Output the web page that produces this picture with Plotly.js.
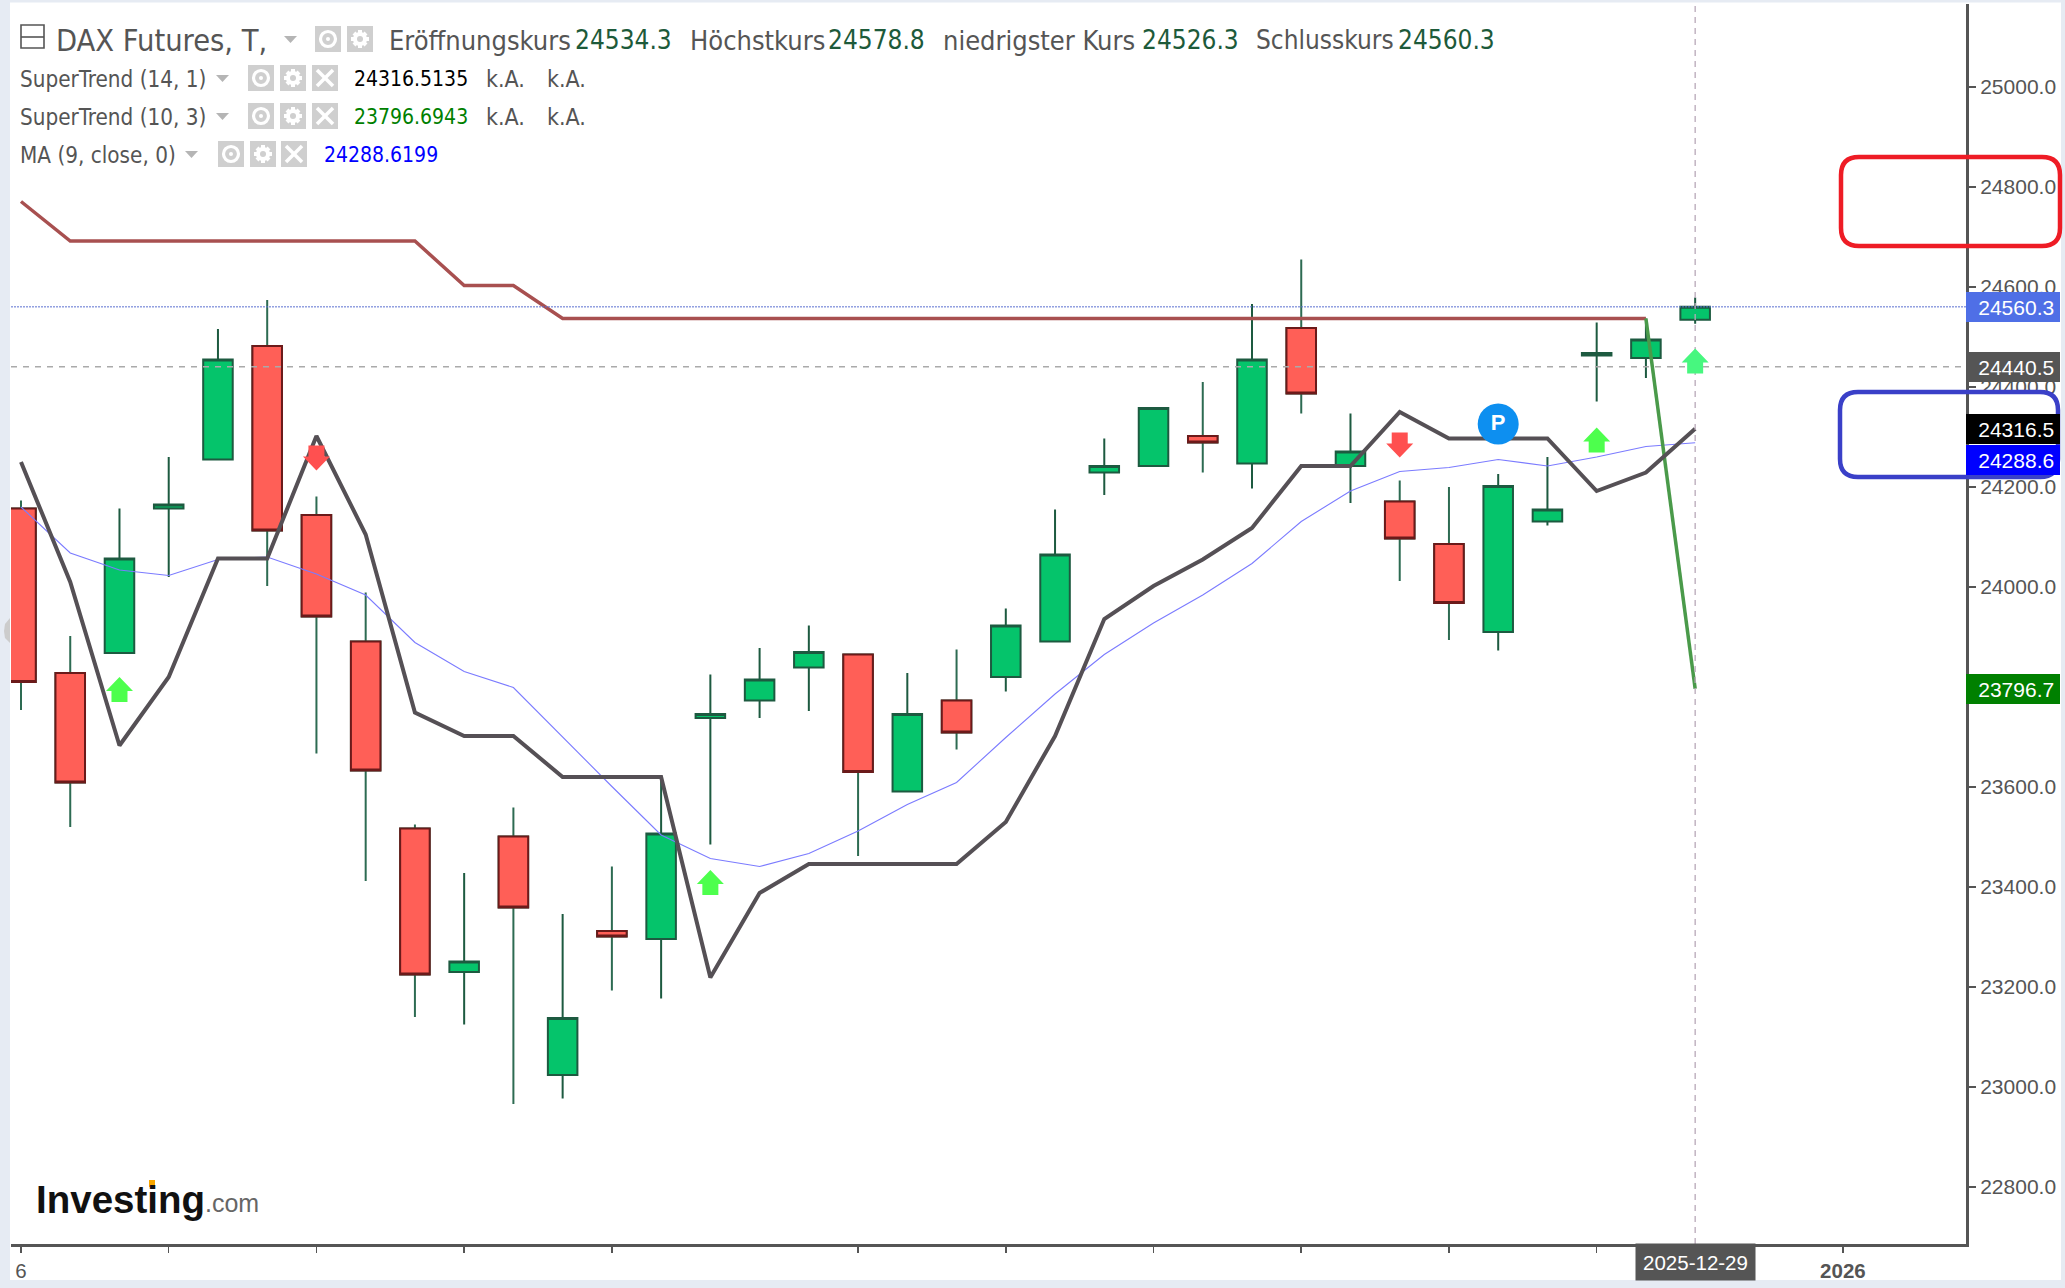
<!DOCTYPE html>
<html><head><meta charset="utf-8">
<script src="https://cdn.plot.ly/plotly-3.0.1.min.js"></script>
<style>html,body{margin:0;padding:0;background:#fff}</style></head>
<body><div id="chart" style="width:2065px;height:1288px"></div>
<script>
// ---- data ----
const sessions = [0,1,2,3,4,5,6,7,8,9,10,11,12,13,14,15,16,17,18,19,20,21,22,23,24,25,26,27,28,29,30,31,32,33,34];
const opens  = [24157,23828,23868,24157,24255,24482,24144,23891,23517,23230,23501,23024,23312,23296,23738,23773,23839,23865,23591,23773,23820,23891,24229,24242,24302,24247,24518,24242,24171,24086,23910,24131,24463,24458,24534.3];
const highs  = [24173,23902,24157,24260,24516,24574,24181,23989,23525,23428,23559,23346,23441,23623,23825,23878,23923,23865,23828,23875,23957,24155,24297,24358,24410,24566,24655,24347,24213,24200,24226,24260,24529,24537,24578.8];
const lows   = [23754,23520,23868,24020,24255,24002,23667,23412,23140,23125,22966,22977,23193,23177,23485,23738,23752,23462,23591,23675,23791,23891,24184,24242,24229,24197,24347,24168,24012,23894,23873,24123,24371,24418,24526.3];
const closes = [23810,23609,24057,24165,24455,24113,23941,23633,23225,23251,23359,23138,23301,23507,23746,23815,23870,23630,23746,23709,23923,24065,24242,24358,24289,24455,24387,24271,24097,23968,24202,24155,24468,24495,24560.3];
const superTrendUpper = [24771,24692,24692,24692,24692,24692,24692,24692,24692,24603,24603,24537,24537,24537,24537,24537,24537,24537,24537,24537,24537,24537,24537,24537,24537,24537,24537,24537,24537,24537,24537,24537,24537,24537];
const superTrendLower = [24537,23796.7];
const superTrendLowerAt = [33,34];
const superTrendFast = [24250,24010,23683,23820,24057,24057,24302,24105,23749,23702,23702,23620,23620,23620,23219,23388,23446,23446,23446,23446,23530,23702,23936,24002,24055,24118,24242,24242,24350,24297,24297,24297,24192,24229,24316.5];
const movingAverage = [24160,24068,24034,24023,24055,24060,24026,23984,23889,23831,23799,23699,23601,23504,23457,23441,23467,23512,23565,23609,23699,23786,23865,23928,23984,24047,24131,24192,24231,24239,24255,24242,24260,24281,24288.6];
const buySignalAt = [2,14,32,34];
const buySignalPrice = [23795,23409,24294,24452];
const sellSignalAt = [6,28];
const sellSignalPrice = [24258,24284];
const pivotAt = [30];
const pivotPrice = [24326];
const priceTicks = [22800,23000,23200,23400,23600,24000,24200,24400,24600,24800,25000];
const timeTicks = [0,3,6,9,12,17,20,23,26,29,32,34,37];
const timeTickLabels = ['6','','','','','','','','','','','','<b>2026</b>'];
const priceLabels = [
  ['24440.5',24440.5,'#555555',0],
  ['24560.3',24560.3,'#4f6fe6',0],
  ['24316.5',24316.5,'#000000',0],
  ['24288.6',24288.6,'#0000ff',-17],
  ['23796.7',23796.7,'#008000',0]
];
const lastPrice = 24560.3, crossPrice = 24440.5, crossIndex = 34;

// ---- frame geometry ----
const W=2065,H=1288,L=11,R=1966,T=4,B=1244;
const HEAD='"DejaVu Sans Condensed","DejaVu Sans",sans-serif';
const px=x=>(x-L)/(R-L), py=y=>1-(y-T)/(B-T);
const shapes=[], ann=[];
const pshape=(o)=>shapes.push(Object.assign({xref:'paper',yref:'paper',layer:'above'},o));
function prect(x0,y0,x1,y1,fill,line,lw){pshape({type:'rect',x0:px(x0),x1:px(x1),y0:py(y0),y1:py(y1),fillcolor:fill,line:{color:line||fill,width:lw||0}});}
function ppath(pts,fill,line,lw,close){
  const d=pts.map((p,i)=>(i?'L':'M')+px(p[0]).toFixed(5)+','+py(p[1]).toFixed(5)).join(' ')+(close?' Z':'');
  pshape({type:'path',path:d,fillcolor:fill||'rgba(0,0,0,0)',line:{color:line||'rgba(0,0,0,0)',width:lw||0}});
}
function pcircle(cx,cy,r,fill,line,lw){pshape({type:'circle',x0:px(cx-r),x1:px(cx+r),y0:py(cy+r),y1:py(cy-r),fillcolor:fill,line:{color:line||fill,width:lw||0}});}
function text(t,x,y,size,color,opts){
  ann.push(Object.assign({xref:'paper',yref:'paper',x:px(x),y:py(y),text:t,showarrow:false,xanchor:'left',yanchor:'middle',
    font:{family:HEAD,size:size,color:color},borderpad:0},opts||{}));
}
function roundRect(x0,y0,x1,y1,r,color,lw){
  const X=px,Y=py;
  const d=`M${X(x0+r)},${Y(y0)} L${X(x1-r)},${Y(y0)} Q${X(x1)},${Y(y0)} ${X(x1)},${Y(y0+r)} L${X(x1)},${Y(y1-r)} Q${X(x1)},${Y(y1)} ${X(x1-r)},${Y(y1)} L${X(x0+r)},${Y(y1)} Q${X(x0)},${Y(y1)} ${X(x0)},${Y(y1-r)} L${X(x0)},${Y(y0+r)} Q${X(x0)},${Y(y0)} ${X(x0+r)},${Y(y0)} Z`;
  pshape({type:'path',path:d,line:{color:color,width:lw},fillcolor:'rgba(0,0,0,0)'});
}
// page frame
const frame='#e6ebf3';
prect(0,0,10,H,frame);prect(0,H-8,W,H,frame);prect(2061,0,W,H,frame);prect(0,0,W,2.5,frame);
ppath([[10,618],[5,624],[4,631],[5,638],[10,643]],'#cccccc',null,0,true);

// icons
function icoBox(x,y){prect(x,y,x+26,y+26,'#cfcfcf');}
function eye(x,y){icoBox(x,y);pcircle(x+13,y+13,7.5,'rgba(0,0,0,0)','#fff',3.2);pcircle(x+13,y+13,2,'#fff');}
function gear(x,y){icoBox(x,y);
  ppath([[x+13,y+4],[x+13,y+22]],null,'#fff',4);ppath([[x+4,y+13],[x+22,y+13]],null,'#fff',4);
  ppath([[x+7,y+7],[x+19,y+19]],null,'#fff',4);ppath([[x+19,y+7],[x+7,y+19]],null,'#fff',4);
  pcircle(x+13,y+13,7,'#fff');pcircle(x+13,y+13,3,'#cfcfcf');}
function cross(x,y){icoBox(x,y);ppath([[x+5,y+5],[x+21,y+21]],null,'#fff',3.5);ppath([[x+21,y+5],[x+5,y+21]],null,'#fff',3.5);}
function caret(x,y){ppath([[x,y-3],[x+13,y-3],[x+6.5,y+4]],'#b5b5b5',null,0,true);}
// header row
prect(21,25,44,48,'rgba(0,0,0,0)','#555',1.6);ppath([[21,37],[44,37]],null,'#555',1.6);
text('DAX Futures, T,',55,40,30.5,'#555555');
caret(284,39);eye(315,26);gear(347,26);
const dk='#1d5a3a';
[['Eröffnungskurs',388,'24534.3',574,27],['Höchstkurs',689,'24578.8',827,27],['niedrigster Kurs',942,'24526.3',1141,27],['Schlusskurs',1255,'24560.3',1397,26]].forEach(r=>{
  text(r[0],r[1],40,r[4],'#555555');text(r[2],r[3],40,26,dk);
});
// indicator rows
[['SuperTrend (14, 1)',78,'24316.5135','#000000',216],['SuperTrend (10, 3)',116,'23796.6943','#008000',216]].forEach(r=>{
  text(r[0],19,r[1]+1,22.3,'#555555');caret(r[4],r[1]);
  eye(248,r[1]-13);gear(280,r[1]-13);cross(312,r[1]-13);
  text(r[2],353,r[1]+1,21,r[3]);text('k.A.',485,r[1]+1,23,'#555555');text('k.A.',546,r[1]+1,23,'#555555');
});
text('MA (9, close, 0)',19,155,22.3,'#555555');caret(185,154);eye(218,141);gear(250,141);cross(281,141);
text('24288.6199',323,155,21,'#0000ff');

// logo
text('Investing',35,1199,38.5,'#111111',{font:{family:'"Liberation Sans",sans-serif',size:38.5,color:'#111111',weight:700}});
text('.com',204,1203,25,'#666666',{font:{family:'"Liberation Sans",sans-serif',size:25,color:'#666666'}});
prect(149,1180,155,1187,'#f7a600');

// hand-drawn boxes
roundRect(1841,157,2060,246,18,'#ee1c25',4.5);
roundRect(1840,392,2058,477,18,'#3a40c8',4.5);

// reference lines
shapes.push({type:'line',xref:'paper',yref:'y',x0:0,x1:1,y0:crossPrice,y1:crossPrice,line:{color:'#aaaaaa',width:1.3,dash:'6px,6px'},layer:'above'});
shapes.push({type:'line',xref:'paper',yref:'y',x0:0,x1:1,y0:lastPrice,y1:lastPrice,line:{color:'#5a70d0',width:1,dash:'2px,1px'},layer:'above'});
shapes.push({type:'line',xref:'x',yref:'paper',x0:crossIndex,x1:crossIndex,y0:0,y1:1,line:{color:'#b8a8b8',width:1.3,dash:'6px,5px'},layer:'above'});

// signals: pixel-sized arrows anchored to data
function arrow(idx,val,color,up){
  const s=up?1:-1;
  const p=[[0,12.5],[13.5,-1.5],[8,-1.5],[8,-12.5],[-8,-12.5],[-8,-1.5],[-13.5,-1.5]];
  const d=p.map((q,i)=>(i?'L':'M')+q[0]+','+(q[1]*s)).join(' ')+' Z';
  shapes.push({type:'path',layer:'above',xref:'x',yref:'y',xsizemode:'pixel',ysizemode:'pixel',xanchor:idx,yanchor:val,path:d,fillcolor:color,line:{width:0}});
}
buySignalAt.forEach((k,i)=>arrow(k,buySignalPrice[i],k===34?'#47f77f':'#4dff4d',true));
sellSignalAt.forEach((k,i)=>arrow(k,sellSignalPrice[i],'#ff5050',false));

// right-hand price tags
priceLabels.forEach(l=>{
  ann.push({xref:'paper',yref:'y',x:1,y:l[1],yshift:l[3],xanchor:'left',yanchor:'middle',showarrow:false,text:l[0]+'&nbsp;',width:94,height:30,align:'right',valign:'middle',bgcolor:l[2],borderpad:0,borderwidth:0,
    font:{family:'"Liberation Sans",Arial,sans-serif',size:21,color:'#ffffff'}});
});
// cursor date tag
ann.push({xref:'x',yref:'paper',x:crossIndex,y:py(1262),xanchor:'center',yanchor:'middle',showarrow:false,text:'2025-12-29',width:119,height:36,bgcolor:'#555555',borderpad:0,
  font:{family:'"Liberation Sans",Arial,sans-serif',size:20.5,color:'#ffffff'}});

const redIdx = sessions.filter(i=>closes[i]<opens[i]);
const traces=[
 {type:'candlestick',name:'DAX Futures',x:sessions,open:opens,high:highs,low:lows,close:closes,whiskerwidth:0,hoverinfo:'skip',
  increasing:{line:{color:'#1d5a40',width:2},fillcolor:'#05c46b'},decreasing:{line:{color:'#2d6b52',width:2},fillcolor:'#ff5f57'}},
 {type:'candlestick',name:'DAX bodies',x:redIdx,open:redIdx.map(i=>opens[i]),high:redIdx.map(i=>opens[i]),low:redIdx.map(i=>closes[i]),close:redIdx.map(i=>closes[i]),whiskerwidth:0,hoverinfo:'skip',
  increasing:{line:{color:'#6b1a1a',width:2},fillcolor:'#ff5f57'},decreasing:{line:{color:'#6b1a1a',width:2},fillcolor:'#ff5f57'}},
 {type:'scatter',mode:'lines',name:'MA (9, close, 0)',x:sessions,y:movingAverage,line:{color:'#7b7bff',width:1.1},hoverinfo:'skip'},
 {type:'scatter',mode:'lines',name:'SuperTrend (10, 3) upper',x:sessions.slice(0,superTrendUpper.length),y:superTrendUpper,line:{color:'#a85050',width:3.5},hoverinfo:'skip'},
 {type:'scatter',mode:'lines',name:'SuperTrend (10, 3)',x:superTrendLowerAt,y:superTrendLower,line:{color:'#4a9a4a',width:3.5},hoverinfo:'skip'},
 {type:'scatter',mode:'lines',name:'SuperTrend (14, 1)',x:sessions,y:superTrendFast,line:{color:'#555055',width:4},hoverinfo:'skip'},
 {type:'scatter',mode:'markers+text',name:'P',x:pivotAt,y:pivotPrice,marker:{size:41,color:'#0d8ff0'},text:['<b>P</b>'],textposition:'middle center',textfont:{family:'"Liberation Sans",sans-serif',size:22,color:'#ffffff'},hoverinfo:'skip'}
];
const layout={width:W,height:H,autosize:false,showlegend:false,paper_bgcolor:'#ffffff',plot_bgcolor:'#ffffff',boxgap:0.4,boxgroupgap:0,
 margin:{l:L,r:W-R,t:T,b:H-B,pad:0},
 xaxis:{range:[(L-21)/49.24,(R-21)/49.24],type:'linear',rangeslider:{visible:false},showgrid:false,zeroline:false,showline:true,linecolor:'#555555',linewidth:3,
  tickmode:'array',tickvals:timeTicks,ticktext:timeTickLabels,ticks:'outside',ticklen:6,tickwidth:1.5,tickcolor:'#555555',tickangle:0,tickfont:{family:'"Liberation Sans",Arial,sans-serif',size:20.5,color:'#555555'}},
 yaxis:{range:[22686,25166],side:'right',showgrid:false,zeroline:false,showline:true,linecolor:'#555555',linewidth:3,
  tickmode:'array',tickvals:priceTicks,ticktext:priceTicks.map(v=>v.toFixed(1)),ticks:'outside',ticklen:7,tickwidth:1.5,tickcolor:'#555555',tickfont:{family:'"Liberation Sans",Arial,sans-serif',size:21,color:'#555555'}},
 shapes:shapes,annotations:ann};
Plotly.newPlot('chart',traces,layout,{displayModeBar:false,staticPlot:true});
</script></body></html>
